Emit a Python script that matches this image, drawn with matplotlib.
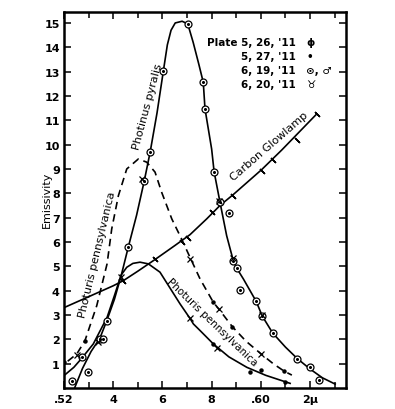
import matplotlib
matplotlib.use("Agg")
import matplotlib.pyplot as plt
from matplotlib.ticker import MultipleLocator

# ---------------- data ----------------
pyralis_x = [0.5243, 0.5275, 0.5310, 0.5346, 0.5374, 0.5405, 0.5432, 0.5461, 0.5495,
             0.5526, 0.5550, 0.5578, 0.5604, 0.5620, 0.5635, 0.5652, 0.5680, 0.5703,
             0.5725, 0.5748, 0.5766, 0.5773, 0.5800, 0.5810, 0.5834, 0.5861, 0.5888,
             0.5902, 0.5929, 0.5981, 0.6006, 0.6048, 0.6100, 0.6148, 0.6200, 0.6250,
             0.6302]
pyralis_y = [0.0, 0.8, 1.5, 2.05, 2.77, 3.65, 4.6, 5.78, 7.1,
             8.5, 9.69, 11.3, 13.04, 14.1, 14.7, 15.0, 15.07, 14.96,
             14.2, 13.3, 12.56, 11.47, 9.82, 8.89, 7.63, 6.26, 5.23,
             4.92, 4.48, 3.56, 2.95, 2.26, 1.68, 1.21, 0.78, 0.42,
             0.16]

penn_dash_x = [0.5215, 0.5252, 0.5285, 0.5333, 0.5375, 0.5394, 0.5421, 0.5455, 0.5502,
               0.5536, 0.5570, 0.5597, 0.5638, 0.5678, 0.5712, 0.5753, 0.5807, 0.5831,
               0.5884, 0.5940, 0.6001, 0.6050, 0.6095, 0.6126]
penn_dash_y = [1.1, 1.4, 1.94, 3.38, 5.1, 6.54, 7.90, 9.00, 9.41,
               9.28, 8.87, 8.04, 6.95, 6.12, 5.37, 4.48, 3.52, 3.22,
               2.52, 1.92, 1.40, 1.00, 0.69, 0.53]

penn_solid_x = [0.5200, 0.5240, 0.5272, 0.5319, 0.5375, 0.5405, 0.5432, 0.5455, 0.5480,
                0.5509, 0.5543, 0.5590, 0.5672, 0.5712, 0.5726, 0.5753, 0.5807, 0.5870,
                0.5943, 0.6020, 0.6098, 0.6119]
penn_solid_y = [0.51, 0.85, 1.22, 1.81, 2.9, 3.8, 4.64, 4.96, 5.12,
                5.17, 5.10, 4.76, 3.45, 2.86, 2.63, 2.36, 1.81, 1.28,
                0.85, 0.52, 0.26, 0.19]

carbon_x = [0.5204, 0.5300, 0.5400, 0.5441, 0.5500, 0.5570, 0.5650, 0.5712, 0.5780,
            0.5834, 0.5888, 0.6004, 0.6085, 0.6227]
carbon_y = [3.32, 3.75, 4.2, 4.41, 4.8, 5.28, 5.85, 6.3, 6.95,
            7.5, 7.95, 8.98, 9.78, 11.26]

# markers
circ_x = [0.5234, 0.5298, 0.5272, 0.5346, 0.5357, 0.5374, 0.5461, 0.5526, 0.5550,
          0.5604, 0.5703, 0.5766, 0.5773, 0.5810, 0.5834, 0.5872, 0.5888, 0.5902,
          0.5915, 0.5981, 0.6006, 0.6048, 0.6148, 0.6200, 0.6238]
circ_y = [0.30, 0.66, 1.26, 2.01, 2.01, 2.77, 5.78, 8.5, 9.69,
          13.04, 14.96, 12.56, 11.47, 8.89, 7.63, 7.19, 5.23, 4.92,
          4.04, 3.56, 2.95, 2.26, 1.21, 0.85, 0.34]
cross_x = [0.5252, 0.5337, 0.5432, 0.5516, 0.5831, 0.5888, 0.6006, 0.5712, 0.5831,
           0.6001, 0.5712, 0.5821]
cross_y = [1.35, 1.9, 4.55, 8.59, 7.7, 5.35, 3.02, 5.3, 3.25,
           1.40, 2.86, 1.63]
dot_x = [0.5200, 0.5285, 0.5807, 0.5884, 0.6095, 0.5807, 0.5956, 0.6000, 0.6098]
dot_y = [1.05, 1.94, 3.52, 2.52, 0.69, 1.81, 0.67, 0.75, 0.26]
tick_x = [0.5441, 0.5570, 0.5678, 0.5705, 0.5800, 0.5888, 0.6004, 0.6051, 0.6146, 0.6227]
tick_y = [4.41, 5.30, 6.0, 6.15, 7.22, 7.9, 8.93, 9.38, 10.2, 11.26]

xtick_vals = [0.52, 0.54, 0.56, 0.58, 0.60, 0.62]
xtick_labels = [".52", "4", "6", "8", ".60", "2\u03bc"]
ytick_vals = list(range(1, 16))

legend_dates = ["Plate 5, 26, '11", "5, 27, '11", "6, 19, '11", "6, 20, '11"]
legend_syms = ["\u03d5", "\u2022", "\u2299, \u2642", "\u2649"]

# ---------------- figure ----------------
W, H = 395, 410
fig = plt.figure(figsize=(W / 100, H / 100), dpi=100)
fig.patch.set_facecolor("white")

def fx(px):
    return px / W

def fy(py):
    return 1 - py / H

ax = fig.add_axes([fx(64), fy(389), fx(345.5) - fx(64), fy(13) - fy(389)])
ax.set_xlim(0.52, 0.6344)
ax.set_ylim(0, 15.45)

lw = 1.2
ax.plot(pyralis_x, pyralis_y, color="black", lw=lw)
ax.plot(penn_dash_x, penn_dash_y, color="black", lw=lw, dashes=(4.5, 3))
ax.plot(penn_solid_x, penn_solid_y, color="black", lw=lw)
ax.plot(carbon_x, carbon_y, color="black", lw=lw)

ax.plot(circ_x, circ_y, linestyle="none", marker="o", ms=5, mfc="white",
        mec="black", mew=0.9, zorder=5)
ax.plot(circ_x, circ_y, linestyle="none", marker="o", ms=1.2, color="black", zorder=6)
ax.plot(cross_x, cross_y, linestyle="none", marker="x", ms=5, color="black", mew=0.9, zorder=6)
ax.plot(dot_x, dot_y, linestyle="none", marker="o", ms=2.2, color="black", zorder=6)
ax.plot(tick_x, tick_y, linestyle="none", marker=(2, 2, 45), ms=5, color="black",
        mew=1.0, zorder=6)

# axes styling
for s in ax.spines.values():
    s.set_linewidth(1.8)
ax.set_xticks(xtick_vals)
ax.set_xticklabels(xtick_labels)
ax.xaxis.set_minor_locator(MultipleLocator(0.01))
ax.set_yticks(ytick_vals)
ax.set_yticklabels([str(v) for v in ytick_vals])
ax.tick_params(which="both", direction="in", top=True, right=True, width=1.1)
ax.tick_params(which="major", length=5)
ax.tick_params(which="minor", length=4)
ax.tick_params(axis="x", pad=4)
ax.tick_params(axis="y", pad=3)
for lab in ax.get_xticklabels() + ax.get_yticklabels():
    lab.set_fontsize(8)
    lab.set_fontweight("bold")

fig.text(fx(47), fy(200), "Emissivity", rotation=90, ha="center", va="center",
         fontsize=8)

# curve labels
fig.text(fx(147.5), fy(107), "Photinus pyralis", rotation=75, ha="center",
         va="center", fontsize=8)
fig.text(fx(97), fy(255), "Photuris pennsylvanica", rotation=76.5, ha="center",
         va="center", fontsize=8)
fig.text(fx(269), fy(147), "Carbon Glowlamp", rotation=41, ha="center",
         va="center", fontsize=8)
fig.text(fx(212), fy(323), "Photuris pennsylvanica", rotation=-44, ha="center",
         va="center", fontsize=7.5)

# legend block
leg_y = [43, 57, 71, 85]
for d, s, yy in zip(legend_dates, legend_syms, leg_y):
    fig.text(fx(296), fy(yy), d, ha="right", va="center", fontsize=7.5, fontweight="bold")
    fig.text(fx(306), fy(yy), s, ha="left", va="center", fontsize=7.5, fontweight="bold")

fig.savefig("out.png", dpi=100, facecolor="white")
